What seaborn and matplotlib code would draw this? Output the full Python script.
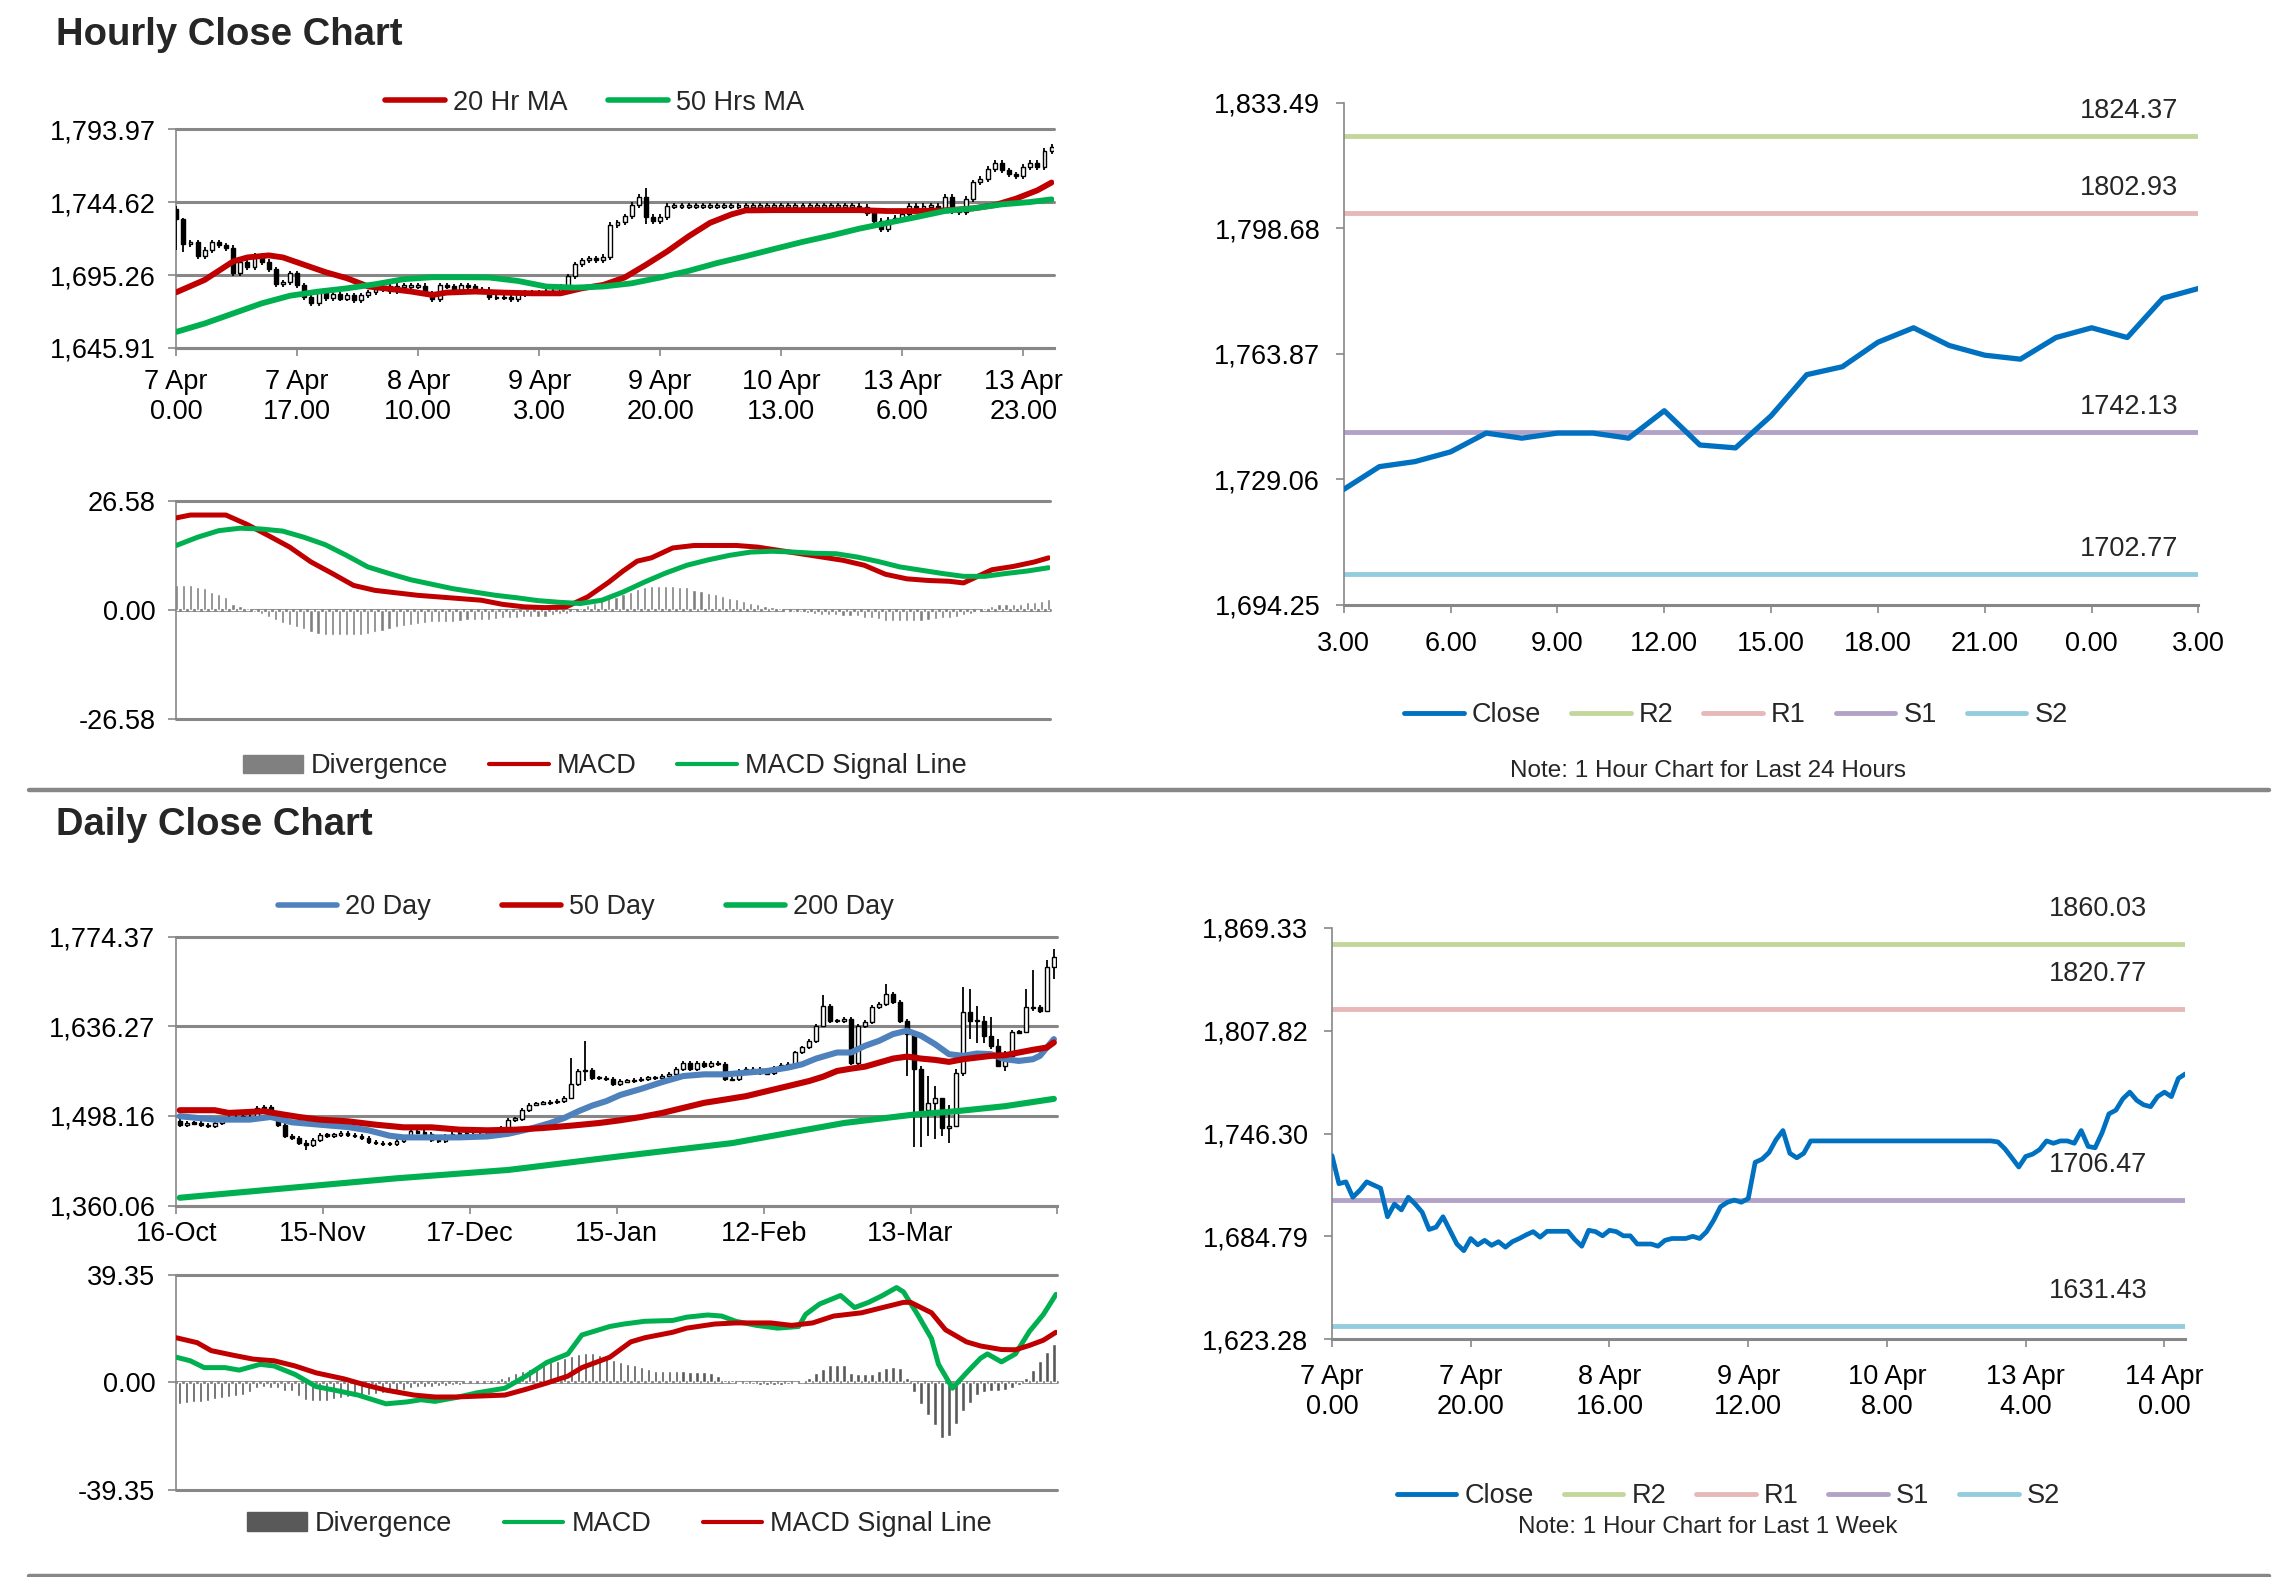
import numpy as np
import seaborn as sns
import matplotlib
matplotlib.use('Agg')  # no display
import matplotlib.pyplot as plt
from matplotlib.lines import Line2D
from matplotlib.patches import Patch

# ---------------- data ----------------
# hourly closes, 7 Apr 0.00 -> 14 Apr 3.00 (weekend skipped)
week_close = [
    1733.1, 1716.3, 1717.4, 1708.2, 1712.3, 1717.4, 1715.5, 1713.6, 1696.5, 1704.1,
    1700.6, 1708.2, 1704.1, 1699.2, 1688.9, 1690.3, 1696.5, 1688.4, 1680.2, 1676.2,
    1683.5, 1679.7, 1682.4, 1679.4, 1681.6, 1678.3, 1681.6, 1683.5, 1685.7, 1687.6,
    1684.3, 1687.8, 1687.8, 1687.8, 1687.8, 1682.9, 1678.9, 1688.4, 1687.6, 1685.1,
    1688.4, 1687.6, 1685.1, 1685.1, 1680.2, 1680.2, 1680.2, 1678.9, 1682.4, 1683.5,
    1683.5, 1683.5, 1684.8, 1683.5, 1687.6, 1694.3, 1702.5, 1705.2, 1706.5, 1705.2,
    1707.4, 1729.1, 1731.0, 1735.0, 1742.6, 1748.1, 1734.5, 1731.8, 1734.5, 1741.9,
    1741.9, 1741.9, 1741.9, 1741.9, 1741.9, 1741.9, 1741.9, 1741.9, 1741.9, 1741.9,
    1741.9, 1741.9, 1741.9, 1741.9, 1741.9, 1741.9, 1741.9, 1741.9, 1741.9, 1741.9,
    1741.9, 1741.9, 1741.9, 1741.9, 1741.9, 1741.9, 1741.3, 1737.2, 1731.8, 1726.3,
    1732.6, 1734.0, 1736.7, 1741.9, 1740.5, 1741.9, 1741.9, 1740.5, 1748.1, 1738.6,
    1737.8, 1746.7, 1758.1, 1760.3, 1767.1, 1771.1, 1766.2, 1763.5, 1762.4, 1768.4,
    1771.1, 1768.4, 1779.3, 1782.0,
]
hourly_first_open = 1740.0
hourly_wicks = {0: (1742, 1712), 1: (1734, 1711), 66: (1754, 1730)}

ma20_hr_x = [0, 4, 8, 10, 13, 15, 18, 21, 24, 27, 30, 33, 36, 38, 42, 46, 50, 54, 57, 60,
             63, 66, 69, 72, 75, 78, 80, 84, 88, 92, 96, 100, 104, 108, 112, 115, 118, 121, 123]
ma20_hr = [1683.6, 1692.0, 1704.5, 1707.2, 1708.6, 1707.2, 1702.2, 1697.2, 1693.1, 1687.5,
           1685.9, 1684.1, 1681.8, 1683.4, 1684.1, 1683.4, 1682.9, 1682.9, 1686.3, 1688.6,
           1693.6, 1702.2, 1711.3, 1721.5, 1730.6, 1736.3, 1739.0, 1739.2, 1739.2, 1739.2,
           1739.2, 1738.6, 1738.6, 1739.0, 1740.4, 1742.6, 1747.0, 1752.6, 1757.9]
ma50_hr_x = list(range(0, 121, 4)) + [123]
ma50_hr = [1656.8, 1662.5, 1669.3, 1676.1, 1681.3, 1684.1, 1686.3, 1689.1, 1692.5, 1693.8,
           1693.8, 1693.6, 1691.3, 1687.5, 1686.8, 1687.5, 1689.7, 1693.6, 1698.1, 1703.4,
           1708.0, 1712.9, 1717.7, 1722.0, 1726.7, 1730.6, 1734.5, 1738.6, 1740.4, 1743.1,
           1744.7, 1746.5]

macd_hr_x = [0, 2, 7, 10, 13, 16, 19, 22, 25, 28, 31, 34, 37, 40, 43, 46, 49, 52, 55, 58,
             61, 63, 65, 67, 70, 73, 76, 79, 82, 85, 88, 91, 94, 97, 100, 103, 106, 109, 111, 113,
             115, 118, 121, 123]
macd_hr = [22.4, 23.1, 23.1, 20.8, 18.1, 15.3, 11.7, 8.9, 6.0, 4.8,
           4.2, 3.6, 3.2, 2.8, 2.4, 1.4, 0.8, 0.6, 0.8, 3.2,
           6.8, 9.5, 11.9, 12.7, 15.1, 15.7, 15.7, 15.7, 15.3, 14.5,
           13.7, 12.9, 12.1, 10.9, 8.7, 7.6, 7.2, 7.0, 6.6, 8.2,
           9.8, 10.6, 11.7, 12.7]
signal_hr_x = list(range(0, 124, 3))
signal_hr = [15.7, 17.7, 19.3, 19.9, 19.7, 19.2, 17.7, 15.9, 13.3, 10.5,
             8.9, 7.4, 6.3, 5.2, 4.4, 3.6, 3.0, 2.3, 1.9, 1.6,
             2.4, 4.4, 6.8, 9.0, 10.9, 12.2, 13.3, 14.1, 14.3, 14.1,
             13.8, 13.7, 12.9, 11.8, 10.5, 9.7, 8.9, 8.2, 8.2, 8.9,
             9.5, 10.3]
div_hr = [6.2, 6.2, 6.0, 5.6, 5.3, 4.3, 4.0, 3.3, 1.5, 1.0,
          0.5, -0.4, -0.9, -1.6, -2.5, -3.1, -3.5, -4.1, -4.7, -5.4,
          -5.8, -6.0, -6.0, -6.0, -6.0, -6.0, -6.0, -5.8, -5.4, -5.0,
          -4.6, -4.2, -3.9, -3.5, -3.4, -3.2, -3.0, -2.9, -2.9, -2.9,
          -2.7, -2.4, -2.4, -2.4, -2.4, -2.1, -2.0, -2.0, -1.8, -1.6,
          -1.6, -1.6, -1.6, -1.3, -1.0, -0.9, -0.4, 0.4, 1.3, 1.8,
          2.5, 2.9, 3.3, 4.0, 4.5, 5.1, 5.6, 5.9, 5.9, 5.9,
          5.9, 5.7, 5.5, 5.0, 4.6, 4.2, 3.9, 3.4, 3.0, 2.8,
          2.2, 1.7, 1.4, 1.1, 0.7, 0.4, -0.1, -0.4, -0.5, -0.7,
          -1.0, -1.1, -1.1, -1.2, -1.4, -1.4, -1.5, -1.8, -2.0, -2.2,
          -2.7, -2.7, -2.7, -2.7, -2.7, -2.6, -2.4, -2.2, -1.9, -1.8,
          -1.6, -1.3, -0.9, -0.3, 0.4, 1.0, 1.5, 1.5, 1.5, 1.6,
          2.0, 2.0, 2.1, 2.7]

day_close = week_close[-25:]   # last 24 hours, 3.00 -> 3.00

# daily candles, 16-Oct -> mid Apr
daily_close = [
    1484.7, 1488.0, 1487.0, 1484.7, 1482.0, 1487.0, 1492.5, 1495.0, 1496.0, 1496.6,
    1495.0, 1510.6, 1511.6, 1500.0, 1484.7, 1466.6, 1464.0, 1456.3, 1453.7, 1461.5,
    1469.2, 1467.7, 1469.2, 1471.8, 1469.2, 1466.6, 1464.0, 1457.3, 1456.3, 1455.3,
    1455.3, 1458.9, 1464.0, 1474.4, 1472.8, 1470.2, 1461.5, 1458.9, 1466.6, 1470.7,
    1470.7, 1470.7, 1469.2, 1470.2, 1472.8, 1476.0, 1479.6, 1492.5, 1494.1, 1507.0,
    1515.8, 1517.3, 1518.4, 1519.4, 1521.0, 1526.1, 1546.8, 1567.5, 1569.1, 1557.2,
    1557.2, 1554.6, 1546.8, 1551.9, 1552.0, 1553.5, 1555.6, 1557.2, 1557.2, 1559.7,
    1562.3, 1570.1, 1580.4, 1571.1, 1580.4, 1575.3, 1580.4, 1577.8, 1554.6, 1554.6,
    1567.5, 1570.1, 1570.1, 1564.9, 1563.9, 1572.7, 1576.3, 1577.8, 1596.0, 1603.7,
    1614.0, 1637.3, 1668.3, 1645.1, 1645.1, 1647.7, 1580.4, 1637.3, 1642.5, 1665.8,
    1670.9, 1686.4, 1673.5, 1645.1, 1624.4, 1570.1, 1508.0, 1518.4, 1526.1, 1479.6,
    1482.2, 1564.9, 1658.0, 1645.1, 1645.1, 1621.8, 1606.3, 1575.3, 1590.8, 1628.1,
    1627.0, 1665.8, 1665.8, 1660.6, 1727.8, 1743.3,
]
daily_first_open = 1490.0
daily_wicks = {18: (1461, 1446), 56: (1588, 1540), 58: (1614, 1552), 92: (1685, 1645),
               101: (1702, 1668), 104: (1647, 1560), 105: (1596, 1451), 106: (1575, 1451),
               107: (1560, 1467), 108: (1545, 1462), 109: (1513, 1467), 110: (1515, 1456),
               111: (1570, 1482), 112: (1697, 1560), 113: (1694, 1617), 114: (1668, 1611),
               115: (1653, 1611), 116: (1650, 1601), 117: (1617, 1575), 118: (1598, 1568),
               121: (1694, 1627), 122: (1723, 1660), 124: (1738, 1660), 125: (1756, 1710)}

ma20_d_x = [0, 5, 10, 13, 16, 20, 24, 27, 30, 32, 36, 40, 44, 47, 50, 53, 55, 57, 59, 61,
            63, 66, 69, 72, 75, 78, 81, 84, 87, 89, 91, 94, 96, 98, 100, 102, 104, 106, 108, 110,
            112, 114, 116, 118, 120, 122, 123, 124, 125]
ma20_d = [1497.7, 1492.5, 1492.5, 1496.6, 1488.4, 1484.7, 1481.1, 1476.0, 1467.7, 1465.1,
          1465.1, 1465.1, 1466.6, 1470.7, 1478.0, 1487.3, 1495.1, 1505.4, 1514.2, 1521.0,
          1530.5, 1540.0, 1550.4, 1559.7, 1562.3, 1562.3, 1564.9, 1567.5, 1572.7, 1577.8,
          1586.6, 1596.0, 1596.0, 1606.3, 1614.0, 1624.4, 1629.6, 1621.8, 1608.9, 1593.4,
          1590.8, 1594.4, 1593.4, 1585.6, 1583.0, 1585.6, 1590.8, 1603.7, 1616.6]
ma50_d_x = [0, 5, 7, 12, 14, 17, 20, 24, 28, 32, 36, 40, 44, 48, 52, 56, 60, 63, 66, 69,
            72, 75, 78, 81, 84, 87, 90, 92, 94, 96, 98, 100, 102, 104, 106, 108, 110, 112, 114, 116,
            118, 120, 122, 124, 125]
ma50_d = [1507.0, 1507.0, 1502.8, 1505.4, 1501.8, 1496.6, 1492.5, 1489.9, 1484.7, 1480.6,
          1480.6, 1477.0, 1476.0, 1477.0, 1479.6, 1483.2, 1487.3, 1491.5, 1496.6, 1502.8,
          1510.6, 1518.4, 1523.5, 1528.7, 1536.5, 1544.2, 1552.0, 1558.7, 1567.5, 1571.1,
          1574.2, 1580.4, 1586.6, 1589.7, 1586.6, 1584.6, 1581.5, 1585.6, 1588.2, 1590.8,
          1591.8, 1596.0, 1600.1, 1603.7, 1611.5]
ma200_d_x = [0, 15, 31, 47, 63, 79, 95, 105, 111, 118, 125]
ma200_d = [1372.0, 1386.5, 1402.0, 1414.9, 1436.0, 1456.3, 1487.3, 1500.3, 1505.4, 1513.2, 1524.5]

macd_d_x = [0, 2, 4, 7, 9, 12, 14, 17, 20, 23, 26, 30, 33, 35, 37, 40, 43, 47, 50, 53,
            56, 58, 62, 64, 67, 71, 73, 76, 78, 80, 83, 86, 89, 90, 92, 95, 97, 99, 101, 103,
            104, 106, 108, 109, 111, 113, 115, 116, 118, 120, 122, 124, 125.8]
macd_d = [9.2, 7.9, 5.4, 5.4, 4.5, 6.6, 6.0, 2.9, -1.5, -3.0,
          -4.6, -7.8, -7.1, -6.3, -6.9, -5.5, -3.8, -2.1, 2.3, 7.3,
          10.4, 17.3, 20.4, 21.3, 22.3, 22.6, 23.8, 24.6, 24.2, 22.3,
          20.8, 19.8, 20.4, 24.8, 28.6, 31.7, 27.3, 29.2, 31.7, 34.6,
          33.0, 24.8, 16.0, 6.6, -2.1, 3.5, 8.8, 10.4, 7.5, 10.4,
          18.6, 24.8, 32.1]
signal_d_x = [0, 3, 5, 8, 11, 14, 17, 20, 24, 27, 30, 34, 37, 40, 43, 47, 50, 53, 56, 58,
              62, 65, 67, 71, 73, 77, 80, 85, 88, 91, 94, 98, 101, 104, 105, 108, 110, 113, 115, 118,
              120, 122, 124, 125.8]
signal_d = [16.3, 14.5, 11.6, 10.0, 8.5, 7.9, 6.0, 3.5, 1.3, -0.9,
            -2.8, -4.6, -5.3, -5.3, -5.0, -4.6, -2.5, -0.2, 2.3, 5.4,
            9.2, 14.8, 16.3, 18.3, 19.8, 21.3, 21.7, 21.7, 20.8, 21.7,
            24.2, 25.4, 27.3, 29.2, 29.2, 25.4, 19.2, 14.8, 13.3, 12.0,
            11.9, 13.5, 15.4, 18.3]
div_d = [-7.8, -7.6, -7.3, -7.0, -6.6, -6.1, -5.6, -5.2, -4.8, -4.5,
         -3.5, -2.1, -1.8, -1.9, -2.2, -3.0, -3.3, -5.0, -6.3, -6.8,
         -6.9, -6.6, -6.0, -5.6, -5.4, -5.2, -4.8, -4.5, -4.3, -4.0,
         -3.6, -3.0, -2.6, -2.0, -1.6, -1.5, -1.5, -1.3, -1.2, -1.0,
         -0.8, 0.4, 0.6, 0.7, 0.8, 0.9, 1.5, 2.5, 3.5, 4.2,
         4.8, 5.5, 6.5, 7.3, 8.0, 9.0, 9.8, 10.5, 10.7, 10.7,
         10.0, 9.0, 8.3, 7.5, 6.8, 6.5, 5.5, 4.8, 4.3, 4.1,
         4.1, 4.0, 4.0, 3.8, 3.7, 3.7, 3.6, 2.5, 1.0, 0.8,
         -0.3, -0.5, -0.6, -0.8, -0.8, -0.9, -0.8, -0.6, -0.3, 0.5,
         1.5, 3.5, 5.0, 6.4, 6.4, 6.2, 3.5, 3.0, 2.9, 3.0,
         4.0, 5.2, 5.6, 5.4, 1.5, -3.5, -8.0, -12.0, -15.5, -20.3,
         -19.5, -15.0, -10.5, -7.5, -4.5, -3.5, -3.2, -3.0, -2.6, -2.0,
         -1.0, 1.8, 4.6, 8.0, 11.2, 13.9]

# support / resistance levels
levels_24h = {'R2': 1824.37, 'R1': 1802.93, 'S1': 1742.13, 'S2': 1702.77}
levels_week = {'R2': 1860.03, 'R1': 1820.77, 'S1': 1706.47, 'S2': 1631.43}

# axis ticks
hourly_yticks = [1645.91, 1695.26, 1744.62, 1793.97]
hourly_xticks = [0, 17, 34, 51, 68, 85, 102, 119]
hourly_xlabels = ['7 Apr\n0.00', '7 Apr\n17.00', '8 Apr\n10.00', '9 Apr\n3.00',
                  '9 Apr\n20.00', '10 Apr\n13.00', '13 Apr\n6.00', '13 Apr\n23.00']
macd_hr_yticks = [-26.58, 0.0, 26.58]
day_yticks = [1694.25, 1729.06, 1763.87, 1798.68, 1833.49]
day_xlabels = ['3.00', '6.00', '9.00', '12.00', '15.00', '18.00', '21.00', '0.00', '3.00']
daily_yticks = [1360.06, 1498.16, 1636.27, 1774.37]
daily_xlabels = ['16-Oct', '15-Nov', '17-Dec', '15-Jan', '12-Feb', '13-Mar', '']
macd_d_yticks = [-39.35, 0.0, 39.35]
week_yticks = [1623.28, 1684.79, 1746.30, 1807.82, 1869.33]
week_xlabels = ['7 Apr\n0.00', '7 Apr\n20.00', '8 Apr\n16.00', '9 Apr\n12.00',
                '10 Apr\n8.00', '13 Apr\n4.00', '14 Apr\n0.00']

# ---------------- style ----------------
RED = '#c00000'
GREEN = '#00b050'
BLUE20 = '#4f81bd'
CLOSE = '#0070c0'
GRID = '#878787'
LEVEL_COLORS = {'R2': '#c3d69b', 'R1': '#e6b9b8', 'S1': '#b3a2c7', 'S2': '#93cddd'}
FS = 19.5

sns.set_theme(style='white')
plt.rcParams['font.family'] = ['Liberation Sans', 'DejaVu Sans']

fig = plt.figure(figsize=(22.91, 15.77), dpi=100)


def rect(x0, y0, x1, y1):
    # positions measured on a 1560 x 1074 view of the reference
    return [x0 / 1560, 1 - y1 / 1074, (x1 - x0) / 1560, (y1 - y0) / 1074]


def figxy(x, y):
    return x / 1560, 1 - y / 1074


def style_axes(ax, yticks, fmt, grid=True, ypad=9, xpad=9):
    ax.set_ylim(yticks[0], yticks[-1])
    ax.set_yticks(yticks)
    ax.set_yticklabels([fmt.format(v) for v in yticks])
    for s in ['top', 'right']:
        ax.spines[s].set_visible(False)
    ax.spines['left'].set_color(GRID)
    ax.spines['left'].set_linewidth(1.2)
    ax.spines['bottom'].set_color(GRID)
    ax.spines['bottom'].set_linewidth(2.2)
    if grid:
        for v in yticks:
            ax.axhline(v, color=GRID, lw=2.2, zorder=1, clip_on=False)
    ax.tick_params(axis='both', which='major', direction='out', length=6, width=1.2,
                   color=GRID, labelcolor='black', labelsize=FS, left=True, bottom=True)
    ax.tick_params(axis='y', pad=ypad)
    ax.tick_params(axis='x', pad=xpad)
    ax.set_xlabel('')
    ax.set_ylabel('')


def draw_candles(ax, closes, first_open, wicks, width, min_body, wick_pad, offset=0.0):
    closes = np.asarray(closes, dtype=float)
    opens = np.r_[first_open, closes[:-1]]
    x = np.arange(len(closes)) + offset
    top = np.maximum(opens, closes)
    bot = np.minimum(opens, closes)
    high = top + wick_pad
    low = bot - wick_pad
    for i, (h, l) in wicks.items():
        high[i] = max(h, top[i])
        low[i] = min(l, bot[i])
    thin = (top - bot) < min_body
    mid = (top + bot) / 2
    bottom = np.where(thin, mid - min_body / 2, bot)
    height = np.where(thin, min_body, top - bot)
    colors = np.where(closes >= opens, 'white', 'black')
    ax.vlines(x, low, high, color='black', lw=1.3, zorder=3)
    ax.bar(x, height, bottom=bottom, width=width, color=colors, edgecolor='black',
           linewidth=1.0, zorder=4)


def line_handle(color, lw=4):
    return Line2D([], [], color=color, lw=lw)


def add_legend(handles, labels, cx, cy, spacing=1.5, fs=FS):
    fig.legend(handles, labels, loc='center', bbox_to_anchor=figxy(cx, cy), ncol=len(handles),
               frameon=False, fontsize=fs, handlelength=2.2, handletextpad=0.3,
               columnspacing=spacing, borderaxespad=0, borderpad=0)


def level_lines(ax, levels, xmax, dx, dy):
    for name, val in levels.items():
        ax.axhline(val, color=LEVEL_COLORS[name], lw=3.5, zorder=2)
        ax.annotate(f'{val:.2f}', xy=(xmax, val), xycoords='data', xytext=(dx, dy),
                    textcoords='offset pixels', ha='right', va='bottom', fontsize=FS)


# ---------------- hourly candles ----------------
ax1 = fig.add_axes(rect(120, 88, 718, 237))
draw_candles(ax1, week_close, hourly_first_open, hourly_wicks, 0.55, 1.0, 1.8)
sns.lineplot(x=ma20_hr_x, y=ma20_hr, ax=ax1, color=RED, lw=4.2, zorder=5)
sns.lineplot(x=ma50_hr_x, y=ma50_hr, ax=ax1, color=GREEN, lw=4.2, zorder=5)
ax1.set_xlim(0, 123.4)
ax1.set_xticks(hourly_xticks)
ax1.set_xticklabels(hourly_xlabels)
style_axes(ax1, hourly_yticks, '{:,.2f}')
add_legend([line_handle(RED), line_handle(GREEN)], ['20 Hr MA', '50 Hrs MA'], 405, 70)

# ---------------- hourly MACD ----------------
ax2 = fig.add_axes(rect(120, 341, 715, 490))
ax2.bar(np.arange(len(div_hr)), div_hr, width=0.45, color='#808080', zorder=2)
sns.lineplot(x=macd_hr_x, y=macd_hr, ax=ax2, color=RED, lw=3.6, zorder=5)
sns.lineplot(x=signal_hr_x, y=signal_hr, ax=ax2, color=GREEN, lw=3.6, zorder=5)
ax2.set_xlim(0, 123.2)
ax2.set_xticks([])
style_axes(ax2, macd_hr_yticks, '{:.2f}')
ax2.spines['bottom'].set_visible(False)
add_legend([Patch(color='#808080'), line_handle(RED, 3), line_handle(GREEN, 3)],
           ['Divergence', 'MACD', 'MACD Signal Line'], 412, 522)

# ---------------- last 24 hours ----------------
ax3 = fig.add_axes(rect(915, 70, 1497, 412))
level_lines(ax3, levels_24h, 24, -20, 12)
sns.lineplot(x=np.arange(len(day_close)), y=day_close, ax=ax3, color=CLOSE, lw=3.8, zorder=5)
ax3.set_xlim(0, 24)
ax3.set_xticks(range(0, 25, 3))
ax3.set_xticklabels(day_xlabels)
style_axes(ax3, day_yticks, '{:,.2f}', grid=False, ypad=11, xpad=13)
add_legend([line_handle(CLOSE, 3.5)] + [line_handle(LEVEL_COLORS[k], 3.5) for k in levels_24h],
           ['Close'] + list(levels_24h), 1182, 487, spacing=1.1)
fig.text(*figxy(1163, 525), 'Note: 1 Hour Chart for Last 24 Hours', ha='center', va='center',
         fontsize=17.5)

# ---------------- daily candles ----------------
ax4 = fig.add_axes(rect(120, 638, 720, 821))
draw_candles(ax4, daily_close, daily_first_open, daily_wicks, 0.55, 2.2, 3.0, offset=0.5)
sns.lineplot(x=np.array(ma20_d_x) + 0.5, y=ma20_d, ax=ax4, color=BLUE20, lw=4.4, zorder=5)
sns.lineplot(x=np.array(ma50_d_x) + 0.5, y=ma50_d, ax=ax4, color=RED, lw=4.4, zorder=5)
sns.lineplot(x=np.array(ma200_d_x) + 0.5, y=ma200_d, ax=ax4, color=GREEN, lw=4.4, zorder=5)
ax4.set_xlim(0, 126)
ax4.set_xticks(range(0, 127, 21))
ax4.set_xticklabels(daily_xlabels)
style_axes(ax4, daily_yticks, '{:,.2f}', xpad=5)
add_legend([line_handle(BLUE20), line_handle(RED), line_handle(GREEN)],
           ['20 Day', '50 Day', '200 Day'], 399, 618, spacing=2.6)

# ---------------- daily MACD ----------------
ax5 = fig.add_axes(rect(120, 868, 720, 1015))
ax5.bar(np.arange(len(div_d)) + 0.5, div_d, width=0.5, color='#595959', zorder=2)
sns.lineplot(x=macd_d_x, y=macd_d, ax=ax5, color=GREEN, lw=3.6, zorder=5)
sns.lineplot(x=signal_d_x, y=signal_d, ax=ax5, color=RED, lw=3.6, zorder=5)
ax5.set_xlim(0, 126)
ax5.set_xticks([])
style_axes(ax5, macd_d_yticks, '{:.2f}')
ax5.spines['bottom'].set_visible(False)
add_legend([Patch(color='#595959'), line_handle(GREEN, 3), line_handle(RED, 3)],
           ['Divergence', 'MACD', 'MACD Signal Line'], 422, 1038, spacing=1.9)

# ---------------- last week ----------------
ax6 = fig.add_axes(rect(907, 632, 1488, 912))
level_lines(ax6, levels_week, 123, -38, 22)
sns.lineplot(x=np.arange(len(week_close)), y=week_close, ax=ax6, color=CLOSE, lw=3.4, zorder=5)
ax6.set_xlim(0, 123)
ax6.set_xticks(range(0, 121, 20))
ax6.set_xticklabels(week_xlabels)
style_axes(ax6, week_yticks, '{:,.2f}', grid=False, ypad=11, xpad=12)
add_legend([line_handle(CLOSE, 3.5)] + [line_handle(LEVEL_COLORS[k], 3.5) for k in levels_week],
           ['Close'] + list(levels_week), 1177, 1019, spacing=1.1)
fig.text(*figxy(1163, 1040), 'Note: 1 Hour Chart for Last 1 Week', ha='center', va='center',
         fontsize=17.5)

# ---------------- titles and separators ----------------
fig.text(*figxy(38, 24), 'Hourly Close Chart', ha='left', va='center', fontsize=27.5,
         fontweight='bold')
fig.text(*figxy(38, 562), 'Daily Close Chart', ha='left', va='center', fontsize=27.5,
         fontweight='bold')
for yy in (538, 1073):
    fig.add_artist(Line2D([20 / 1560, 1545 / 1560], [1 - yy / 1074] * 2, color=GRID, lw=3.2,
                          transform=fig.transFigure))

fig.savefig('out.png', dpi=100, facecolor='white')
